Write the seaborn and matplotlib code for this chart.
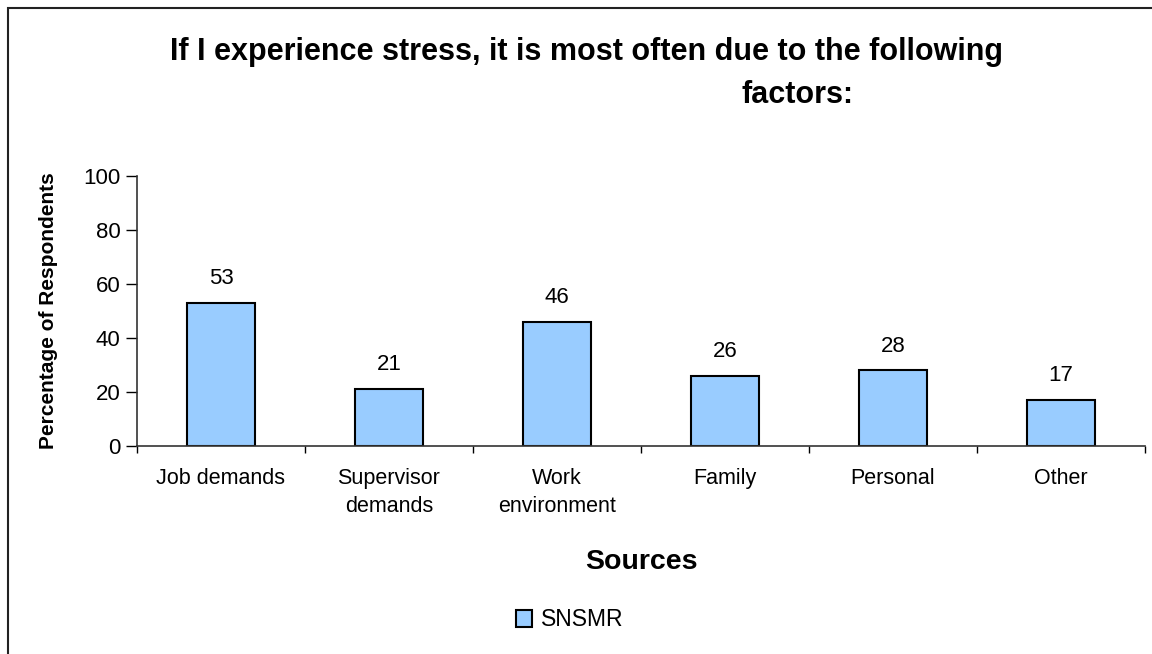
import pandas as pd
import seaborn as sns
import matplotlib.pyplot as plt
from matplotlib.patches import Patch, Rectangle
from matplotlib.ticker import FixedLocator

categories = ['Job demands', 'Supervisor\ndemands', 'Work\nenvironment', 'Family', 'Personal', 'Other']
values = [53, 21, 46, 26, 28, 17]
series_name = 'SNSMR'
yticks = [0, 20, 40, 60, 80, 100]

df = pd.DataFrame({'source': categories, 'pct': values})

sns.set_style('white')
plt.rcParams['font.family'] = ['Liberation Sans', 'DejaVu Sans']
for k in ['text.color', 'axes.labelcolor', 'xtick.color', 'ytick.color']:
    plt.rcParams[k] = 'black'

fig = plt.figure(figsize=(11.52, 6.54), dpi=100)
ax = fig.add_axes([137 / 1152, 1 - 446 / 654, 1008 / 1152, 270 / 654])

bar_color = '#99CCFF'
sns.barplot(data=df, x='source', y='pct', color=bar_color, edgecolor='black',
            linewidth=1.5, width=0.405, saturation=1, ax=ax)

for i, v in enumerate(values):
    ax.annotate(str(v), (i, v), xytext=(0, 10), textcoords='offset points',
                ha='center', va='bottom', fontsize=16)

ax.set_xlim(-0.5, len(categories) - 0.5)
ax.set_ylim(0, 100)
ax.set_yticks(yticks)
ax.tick_params(axis='y', which='major', direction='out', length=8, width=1,
               labelsize=16, left=True, pad=4)
ax.tick_params(axis='x', which='major', length=0, labelsize=15.5, pad=16)
ax.xaxis.set_minor_locator(FixedLocator([i - 0.5 for i in range(len(categories) + 1)]))
ax.tick_params(axis='x', which='minor', direction='out', length=5, width=1, bottom=True)
for lbl in ax.get_xticklabels():
    lbl.set_linespacing(1.45)

sns.despine(ax=ax, top=True, right=True)
for s in ['left', 'bottom']:
    ax.spines[s].set_color('#333333')
    ax.spines[s].set_linewidth(1.2)

ax.set_xlabel('Sources', fontsize=20.5, fontweight='bold', labelpad=23)
ax.set_ylabel('Percentage of Respondents', fontsize=15, fontweight='bold', labelpad=18)

fig.text(587 / 1152, 1 - 52 / 654, 'If I experience stress, it is most often due to the following',
         ha='center', va='center', fontsize=22, fontweight='bold')
fig.text(797 / 1152, 1 - 95 / 654, 'factors:', ha='center', va='center',
         fontsize=22, fontweight='bold')

handle = Patch(facecolor=bar_color, edgecolor='black', linewidth=1.5)
fig.legend([handle], [series_name], loc='center', bbox_to_anchor=(570 / 1152, 1 - 620 / 654),
           frameon=False, fontsize=16.5, handlelength=0.7, handleheight=0.7, handletextpad=0.4)

fig.patches.append(Rectangle((8 / 1152, -0.1), 1.2, 1.1 - 8 / 654, transform=fig.transFigure,
                             fill=False, edgecolor='#222222', linewidth=1.5, clip_on=False))

plt.savefig('out.png', dpi=100)
